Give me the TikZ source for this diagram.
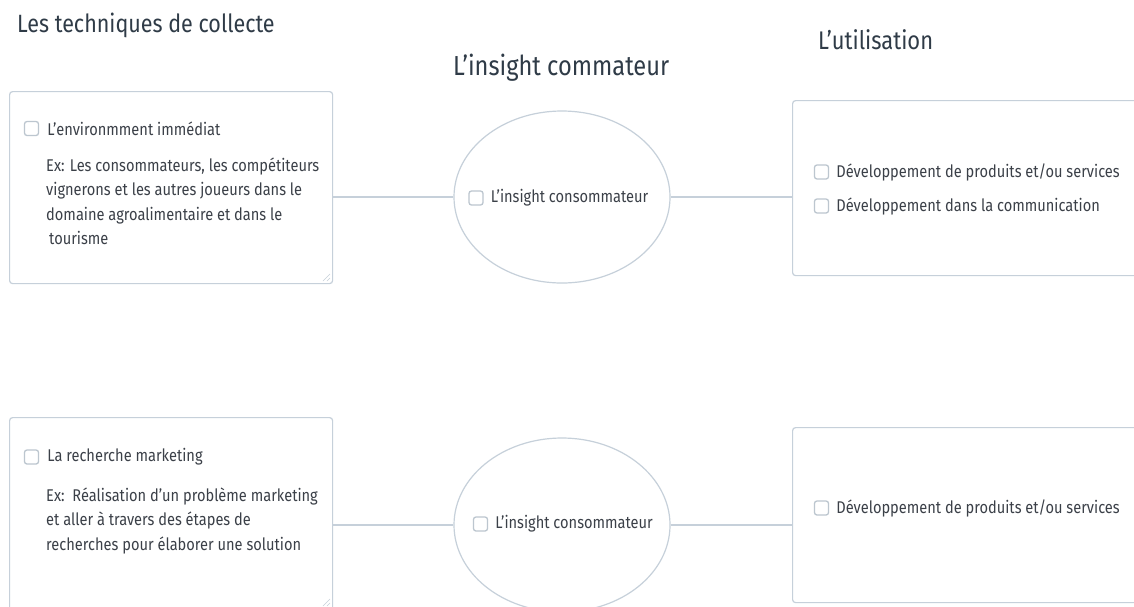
\documentclass[tikz,border=0pt]{standalone}
\usepackage{fontspec}
\setmainfont{Fira Sans}[FakeStretch=0.86]
\usetikzlibrary{positioning, shapes.geometric}
\definecolor{edge}{HTML}{C6D0DA}
\definecolor{ink}{HTML}{3B4048}
\definecolor{headink}{HTML}{2F3B47}

\begin{document}
\begin{tikzpicture}[x=1pt, y=-1pt,
  panel/.style={draw=edge, line width=1.2pt, rounded corners=3pt, inner sep=0pt, anchor=north west},
  bubble/.style={draw=edge, line width=1.2pt, ellipse, inner sep=0pt},
  chk/.style={draw=edge!95!black, line width=1.3pt, rounded corners=2.5pt, minimum size=14pt, inner sep=0pt},
  txt/.style={text=ink, font=\fontsize{17}{24.5}\selectfont, inner sep=0pt, anchor=west},
  para/.style={text=ink, font=\fontsize{17}{24.5}\selectfont, inner sep=0pt, anchor=north west, align=left},
  head/.style={text=headink, inner sep=0pt, anchor=base west}]
\clip (0,0) rectangle (1134,606);
\fill[white] (0,0) rectangle (1134,606);

% titres
\node[head, font=\fontsize{25}{28}\selectfont] (hcol) at (17,32) {Les techniques de collecte};
\node[head, font=\fontsize{27.5}{30}\selectfont] (hins) at (453,75) {L'insight commateur};
\node[head, font=\fontsize{25.5}{28}\selectfont] (huse) at (818,49) {L'utilisation};

% premiere rangee
\node[panel, minimum width=323pt, minimum height=192pt] (env) at (9,91) {};
\node[chk] (cenv) at (31.5,128.5) {};
\node[txt, right=8pt of cenv] (tenv) {L'environmment immédiat};
\node[para] (xenv) at (46,157.5) {Ex: Les consommateurs, les compétiteurs\\
  vignerons et les autres joueurs dans le\\
  domaine agroalimentaire et dans le\\
  \hspace{3pt}tourisme};
\draw[edge, line width=0.6pt] (323,281) -- (330,274) (327,281) -- (330,278);

\node[bubble, minimum width=216pt, minimum height=172pt] (ins1) at (562,197) {};
\node[chk] (cins1) at (476,198) {};
\node[txt, right=7pt of cins1] (tins1) {L'insight consommateur};

\node[panel, minimum width=400pt, minimum height=175pt] (use1) at (792,100) {};
\node[chk] (cuse1) at (821.5,172) {};
\node[txt, right=7pt of cuse1] (tuse1) {Développement de produits et/ou services};
\node[chk] (cuse2) at (821.5,206) {};
\node[txt, right=7pt of cuse2] (tuse2) {Développement dans la communication};

\draw[edge, line width=1.2pt] (ins1.west) -- (ins1.west -| env.east);
\draw[edge, line width=1.2pt] (ins1.east) -- (ins1.east -| use1.west);

% deuxieme rangee
\node[panel, minimum width=323pt, minimum height=200pt] (mkt) at (9,417) {};
\node[chk] (cmkt) at (31.5,457) {};
\node[txt, right=8pt of cmkt] (tmkt) {La recherche marketing};
\node[para] (xmkt) at (46,487.5) {Ex:\ \ Réalisation d'un problème marketing\\
  et aller à travers des étapes de\\
  recherches pour élaborer une solution};
\draw[edge, line width=0.6pt] (323,606) -- (330,599) (327,606) -- (330,603);

\node[bubble, minimum width=216pt, minimum height=174pt] (ins2) at (562,525) {};
\node[chk] (cins2) at (480.5,524) {};
\node[txt, right=7pt of cins2] (tins2) {L'insight consommateur};

\node[panel, minimum width=400pt, minimum height=175pt] (use3) at (792,427) {};
\node[chk] (cuse3) at (821.5,508) {};
\node[txt, right=7pt of cuse3] (tuse3) {Développement de produits et/ou services};

\draw[edge, line width=1.2pt] (ins2.west) -- (ins2.west -| mkt.east);
\draw[edge, line width=1.2pt] (ins2.east) -- (ins2.east -| use3.west);
\end{tikzpicture}
\end{document}
